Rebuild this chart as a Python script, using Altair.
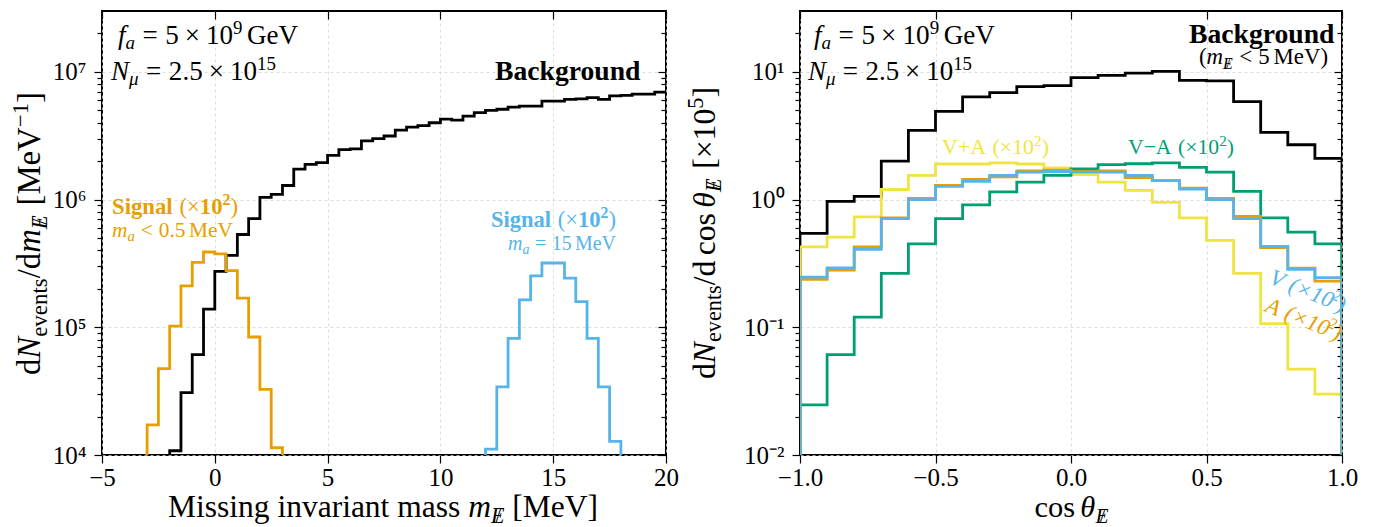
import math
import pandas as pd
import altair as alt

# ---------------- data ----------------
# Left panel: dN/dm (MeV^-1), 0.5 MeV bins
MASS_BIN = 0.5
bg_mass_start = -2.0
bg_mass = [1.08e4, 3.08e4, 6.1e4, 1.39e5, 2.74e5, 3.66e5, 5.33e5, 7.1e5, 1.04e6, 1.1e6,
           1.29e6, 1.73e6, 1.89e6, 1.95e6, 2.22e6, 2.46e6, 2.5e6, 2.88e6, 3.0e6, 3.15e6,
           3.5e6, 3.7e6, 3.8e6, 4.0e6, 4.27e6, 4.2e6, 4.5e6, 4.8e6, 5.0e6, 5.1e6,
           5.3e6, 5.4e6, 5.4e6, 5.9e6, 5.9e6, 6.1e6, 6.15e6, 6.3e6, 6.1e6, 6.5e6,
           6.55e6, 6.7e6, 6.7e6, 6.95e6]
sig0_mass_start = -3.0
sig0_mass = [1.72e4, 4.75e4, 1.02e5, 2.11e5, 3.23e5, 3.89e5, 3.76e5, 2.78e5, 1.69e5, 8.4e4, 3.27e4, 1.14e4]
sig15_mass_start = 12.0
sig15_mass = [1.11e4, 3.41e4, 8.2e4, 1.64e5, 2.53e5, 3.19e5, 3.19e5, 2.43e5, 1.59e5, 8.2e4, 3.41e4, 1.28e4]

# Right panel: dN/dcos (x1e5), 0.1 bins
COS_BIN = 0.1
cos_start = -1.0
bg_cos = [0.545, 0.97, 1.06, 2.0, 3.48, 4.91, 6.37, 6.89, 7.68, 7.8,
          9.03, 9.41, 9.77, 10.1, 8.6, 8.5, 5.85, 3.36, 2.69, 2.1]
vpa_cos = [0.427, 0.508, 0.733, 1.2, 1.55, 1.9, 1.9, 1.94, 1.9, 1.77,
           1.57, 1.37, 1.18, 0.95, 0.72, 0.48, 0.264, 0.107, 0.047, 0.030]
vma_cos = [0.0247, 0.061, 0.12, 0.264, 0.45, 0.71, 0.91, 1.15, 1.37, 1.55,
           1.74, 1.88, 1.91, 1.94, 1.79, 1.64, 1.16, 0.72, 0.556, 0.45]
v_cos = [0.247, 0.292, 0.407, 0.71, 1.0, 1.27, 1.39, 1.55, 1.64, 1.66,
         1.64, 1.64, 1.55, 1.41, 1.21, 1.0, 0.71, 0.43, 0.284, 0.245]
a_cos = [0.237, 0.28, 0.427, 0.72, 1.02, 1.29, 1.44, 1.51, 1.68, 1.7,
         1.66, 1.68, 1.49, 1.41, 1.23, 1.02, 0.74, 0.42, 0.29, 0.23]

mass_ticks = [-5, 0, 5, 10, 15, 20]
cos_ticks = [-1.0, -0.5, 0.0, 0.5, 1.0]
mass_decades = [4, 5, 6, 7]
cos_decades = [-2, -1, 0, 1]
mass_xdom = [-5, 20]
cos_xdom = [-1, 1]
mass_ydom = [1e4, 3e7]
cos_ydom = [1e-2, 30]

# ---------------- style ----------------
FONT = "Liberation Serif"
BLACK, ORANGE, BLUE, GREEN, YELLOW = "#000000", "#E69F00", "#56B4E9", "#009E73", "#F0E442"
GRID = "#d4d4d4"
LW = 2.8
W_LEFT, W_RIGHT, H = 564, 542, 444
TICK_MAJ, TICK_MIN = 8, 5
LABEL_SIZE = 25

SUPMAP = {'-': '⁻', '0': '⁰', '1': '¹', '2': '²', '3': '³', '4': '⁴',
          '5': '⁵', '6': '⁶', '7': '⁷', '8': '⁸', '9': '⁹'}


def sup_str(n):
    return ''.join(SUPMAP[c] for c in str(n))


MAJ = "abs(log(datum.value)/LN10 - round(log(datum.value)/LN10)) < 0.001"


def log_label_expr(decades):
    inner = "''"
    for d in reversed(decades):
        inner = f"(round(log(datum.value)/LN10) == {d} ? '10{sup_str(d)}' : {inner})"
    return f"({MAJ}) ? {inner} : ''"


def majors_minors(decades, top_extra):
    majors = [10.0 ** d for d in decades]
    minors = [m * 10.0 ** d for d in decades[:-1] for m in range(2, 10)]
    minors += [m * 10.0 ** decades[-1] for m in top_extra]
    return majors, minors


def step_df(start, width, vals, floor, lead=True, trail=True):
    edges = [start + width * i for i in range(len(vals) + 1)]
    xs, ys = [], []
    if lead:
        xs.append(edges[0]); ys.append(floor)
    for e, v in zip(edges[:-1], vals):
        xs.append(e); ys.append(v)
    xs.append(edges[-1]); ys.append(vals[-1])
    if trail:
        xs.append(edges[-1]); ys.append(floor)
    return pd.DataFrame({'x': xs, 'y': ys, 'i': list(range(len(xs)))})


def step_line(df, color, xs, ys, xaxis, yaxis):
    return alt.Chart(df).mark_line(
        interpolate='step-after', clip=True, strokeWidth=LW, color=color,
        strokeJoin='miter', strokeCap='butt'
    ).encode(
        x=alt.X('x:Q', scale=xs, axis=xaxis),
        y=alt.Y('y:Q', scale=ys, axis=yaxis),
        order=alt.Order('i:Q'),
    )


def y_main(majors, minors, decades):
    return alt.Axis(orient='left', values=majors + minors, labelExpr=log_label_expr(decades),
                    tickSize={"condition": {"test": MAJ, "value": TICK_MAJ}, "value": TICK_MIN},
                    grid=True, gridOpacity={"condition": {"test": MAJ, "value": 1}, "value": 0},
                    gridColor=GRID, gridDash=[3, 3], gridWidth=0.8, domain=False,
                    tickColor='black', tickWidth=1.2, labelFont=FONT, labelFontSize=LABEL_SIZE,
                    labelColor='black', labelPadding=8, labelOverlap=False, labelFlush=False,
                    title=None)


def x_main(values, fmt):
    return alt.Axis(orient='bottom', values=values, format=fmt, tickSize=TICK_MAJ, grid=True,
                    gridColor=GRID, gridDash=[3, 3], gridWidth=0.8, domain=False,
                    tickColor='black', tickWidth=1.2, labelFont=FONT, labelFontSize=LABEL_SIZE,
                    labelColor='black', labelPadding=2, labelOverlap=False, labelFlush=False,
                    title=None)


def inward(orient, values, size):
    return alt.Axis(orient=orient, values=values, tickSize=size, offset=-size, labels=False,
                    domain=False, grid=False, title=None, tickColor='black', tickWidth=1.2)


# ---------------- rich text helper (Times metrics) ----------------
W_R = {' ': 250, '(': 333, ')': 333, '+': 564, ',': 250, '-': 333, '.': 250, '/': 278,
       '<': 564, '=': 564, '[': 333, ']': 333, '×': 564, '−': 564, 'μ': 500, 'θ': 500,
       'A': 722, 'B': 667, 'E': 611, 'G': 722, 'M': 889, 'N': 722, 'S': 556, 'V': 722,
       'a': 444, 'b': 500, 'c': 444, 'd': 500, 'e': 444, 'f': 333, 'g': 500, 'h': 500,
       'i': 278, 'k': 500, 'l': 278, 'm': 778, 'n': 500, 'o': 500, 'r': 333, 's': 389,
       't': 278, 'u': 500, 'v': 500}
W_I = {'A': 611, 'E': 611, 'N': 667, 'V': 611, 'a': 500, 'f': 278, 'm': 722}
W_B = {'B': 667, 'S': 556, 'a': 500, 'c': 444, 'd': 556, 'g': 500, 'i': 278, 'k': 556,
       'l': 278, 'n': 556, 'o': 500, 'r': 444, 'u': 556}


def em_width(t, st, wt):
    tot = 0
    for ch in t:
        if wt == 'bold' and ch in W_B:
            tot += W_B[ch]
        elif st == 'italic' and ch in W_I:
            tot += W_I[ch]
        else:
            tot += W_R.get(ch, 500)
    return tot / 1000.0


def P(t, st='normal', wt='normal', s=1.0, sh=0.0, pre=0.0, adv=None):
    return dict(t=t, st=st, wt=wt, s=s, sh=sh, pre=pre, adv=adv)


def SP(em):
    return P('', adv=em)


SUB = dict(s=0.7, sh=0.2)
SUPR = dict(s=0.7, sh=-0.38)


def EBAR(s=0.7, sh=0.2):
    return [P('E', 'italic', s=s, sh=sh), P('/', s=s, sh=sh, pre=-0.42 * s, adv=0.0)]


def piece_adv(p):
    if p['adv'] is not None:
        return p['adv']
    return em_width(p['t'], p['st'], p['wt']) * p['s']


def rich(pcs, x0, y0, target, color, angle=0.0, anchor='left'):
    total = sum(piece_adv(p) for p in pcs)
    base = target / total
    th = math.radians(angle)
    ax, ay = math.cos(th), math.sin(th)
    nx, ny = -math.sin(th), math.cos(th)
    pos = {'left': 0.0, 'right': -total, 'center': -total / 2}[anchor] * base
    out = []
    for p in pcs:
        if p['t']:
            a = pos + p['pre'] * base
            d = p['sh'] * base
            out.append(dict(t=p['t'], x=x0 + a * ax + d * nx, y=y0 + a * ay + d * ny,
                            fs=base * p['s'], col=color, ang=angle % 360,
                            st=p['st'], wt=p['wt']))
        pos += piece_adv(p) * base
    return out


def text_layers(items):
    df = pd.DataFrame(items)
    layers = []
    for (st, wt), g in df.groupby(['st', 'wt']):
        layers.append(alt.Chart(g.reset_index(drop=True)).mark_text(
            font=FONT, align='left', baseline='alphabetic', fontStyle=st, fontWeight=wt
        ).encode(
            x=alt.X('x:Q', scale=None, axis=None),
            y=alt.Y('y:Q', scale=None, axis=None),
            text='t:N',
            size=alt.Size('fs:Q', scale=None, legend=None),
            color=alt.Color('col:N', scale=None, legend=None),
            angle=alt.Angle('ang:Q', scale=None),
        ))
    return layers


# text contents
FA = [P('f', 'italic'), P('a', 'italic', **SUB), SP(0.278), P('='), SP(0.278), P('5'), SP(0.222),
      P('×'), SP(0.222), P('10'), P('9', **SUPR), SP(0.167), P('GeV')]
NMU = [P('N', 'italic'), P('μ', 'italic', **SUB), SP(0.278), P('='), SP(0.278), P('2.5'),
       SP(0.222), P('×'), SP(0.222), P('10'), P('15', **SUPR)]
BG = [P('Background', wt='bold')]
SIG = [P('Signal', wt='bold'), SP(0.3), P('('), P('×'), P('10', wt='bold'),
       P('2', wt='bold', **SUPR), P(')')]
MA0 = [P('m', 'italic'), P('a', 'italic', **SUB), SP(0.278), P('<'), SP(0.278), P('0.5'),
       SP(0.167), P('MeV')]
MA15 = [P('m', 'italic'), P('a', 'italic', **SUB), SP(0.278), P('='), SP(0.278), P('15'),
        SP(0.167), P('MeV')]
BGCUT = [P('('), P('m', 'italic'), *EBAR(), SP(0.278), P('<'), SP(0.278), P('5'), SP(0.167),
         P('MeV'), P(')')]
VPA = [P('V+A'), SP(0.3), P('(×10'), P('2', **SUPR), P(')')]
VMA = [P('V−A'), SP(0.3), P('(×10'), P('2', **SUPR), P(')')]
VV = [P('V', 'italic'), SP(0.3), P('(×10', 'italic'), P('2', 'italic', **SUPR), P(')', 'italic')]
AA = [P('A', 'italic'), SP(0.3), P('(×10', 'italic'), P('2', 'italic', **SUPR), P(')', 'italic')]
YL = [P('d'), P('N', 'italic'), P('events', **SUB), P('/'), P('d'), P('m', 'italic'), *EBAR(),
      SP(0.3), P('[MeV'), P('−1', **SUPR), P(']')]
XL = [P('Missing invariant mass '), P('m', 'italic'), *EBAR(), SP(0.25), P('[MeV]')]
YR = [P('d'), P('N', 'italic'), P('events', **SUB), P('/'), P('d'), SP(0.167), P('cos'), SP(0.167),
      P('θ', 'italic'), *EBAR(), SP(0.3), P('[×10'), P('5', **SUPR), P(']')]
XR = [P('cos'), SP(0.167), P('θ', 'italic'), *EBAR()]

# ---------------- left panel ----------------
xsL = alt.Scale(domain=mass_xdom, nice=False, zero=False)
ysL = alt.Scale(type='log', domain=mass_ydom, nice=False)
majL, minL = majors_minors(mass_decades, [2])
floorL = mass_ydom[0] / 10

left_lines = [
    step_line(step_df(bg_mass_start, MASS_BIN, bg_mass, floorL, trail=False), BLACK, xsL, ysL,
              x_main(mass_ticks, 'd'), y_main(majL, minL, mass_decades)),
    step_line(step_df(sig0_mass_start, MASS_BIN, sig0_mass, floorL), ORANGE, xsL, ysL,
              inward('top', mass_ticks, TICK_MAJ), inward('right', majL, TICK_MAJ)),
    step_line(step_df(sig15_mass_start, MASS_BIN, sig15_mass, floorL), BLUE, xsL, ysL,
              None, inward('right', minL, TICK_MIN)),
]
left_text = []
left_text += rich(FA, 16, 33, 180, BLACK)
left_text += rich(NMU, 9, 69, 165, BLACK)
left_text += rich(BG, 539, 69, 146, BLACK, anchor='right')
left_text += rich(SIG, 10, 203, 126, ORANGE)
left_text += rich(MA0, 10, 226, 121, ORANGE)
left_text += rich(SIG, 514, 216, 125, BLUE, anchor='right')
left_text += rich(MA15, 514, 239, 108, BLUE, anchor='right')
left_text += rich(YL, -62, 222.5, 283, BLACK, angle=270, anchor='center')
left_text += rich(XL, 281, 506, 430, BLACK, anchor='center')

left = alt.layer(*left_lines, *text_layers(left_text)).resolve_axis(
    x='independent', y='independent').properties(width=W_LEFT, height=H)

# ---------------- right panel ----------------
xsR = alt.Scale(domain=cos_xdom, nice=False, zero=False)
ysR = alt.Scale(type='log', domain=cos_ydom, nice=False)
majR, minR = majors_minors(cos_decades, [2])
floorR = cos_ydom[0] / 10

right_lines = [
    step_line(step_df(cos_start, COS_BIN, bg_cos, floorR), BLACK, xsR, ysR,
              x_main(cos_ticks, '.1f'), y_main(majR, minR, cos_decades)),
    step_line(step_df(cos_start, COS_BIN, vpa_cos, floorR), YELLOW, xsR, ysR,
              inward('top', cos_ticks, TICK_MAJ), inward('right', majR, TICK_MAJ)),
    step_line(step_df(cos_start, COS_BIN, vma_cos, floorR), GREEN, xsR, ysR,
              None, inward('right', minR, TICK_MIN)),
    step_line(step_df(cos_start, COS_BIN, a_cos, floorR), ORANGE, xsR, ysR, None, None),
    step_line(step_df(cos_start, COS_BIN, v_cos, floorR), BLUE, xsR, ysR, None, None),
]
right_text = []
right_text += rich(FA, 14, 33, 181, BLACK)
right_text += rich(NMU, 8, 69, 164, BLACK)
right_text += rich(BG, 535, 32, 146, BLACK, anchor='right')
right_text += rich(BGCUT, 528, 53, 129, BLACK, anchor='right')
right_text += rich(VPA, 142, 143, 107, YELLOW)
right_text += rich(VMA, 328, 143, 106, GREEN)
right_text += rich(VV, 468, 272, 80, BLUE, angle=22)
right_text += rich(AA, 464, 300, 80, ORANGE, angle=22)
right_text += rich(YR, -85, 222, 292, BLACK, angle=270, anchor='center')
right_text += rich(XR, 271.5, 506, 74, BLACK, anchor='center')

right = alt.layer(*right_lines, *text_layers(right_text)).resolve_axis(
    x='independent', y='independent').properties(width=W_RIGHT, height=H)

chart = alt.hconcat(left, right, spacing=3).properties(
    padding={"left": 0, "top": 1, "right": 2, "bottom": 0}
).configure_view(stroke='black', strokeWidth=2)

chart.save("out.html", embed_options={"renderer": "svg", "actions": False})
